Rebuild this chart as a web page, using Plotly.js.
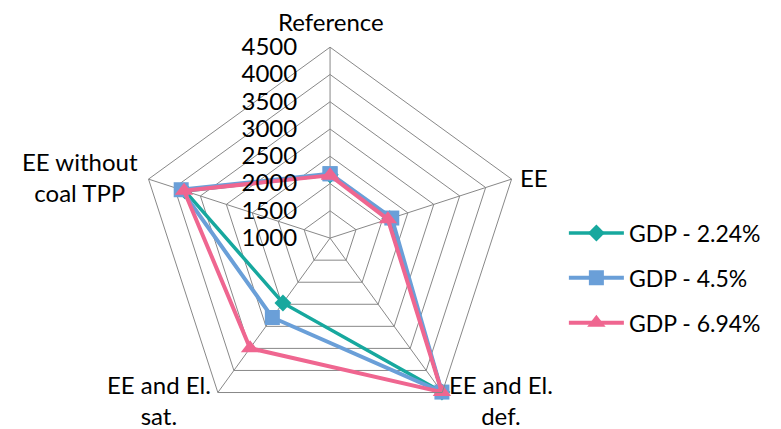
<!DOCTYPE html>
<html>
<head>
<meta charset="utf-8">
<script src="https://cdn.plot.ly/plotly-3.0.1.min.js"></script>
<style>html,body{margin:0;padding:0;background:#fff;}#chart{width:781px;height:429px;}</style>
</head>
<body>
<div id="chart"></div>
<script>
const categories = ["Reference", "EE", "EE and El.<br>def.", "EE and El.<br>sat.", "EE without<br>coal TPP"];
const seriesNames = ["GDP - 2.24%", "GDP - 4.5%", "GDP - 6.94%"];
const gdp224 = [2160, 2150, 4490, 2470, 3800];
const gdp45 = [2180, 2190, 4490, 2800, 3870];
const gdp694 = [2150, 2115, 4490, 3495, 3815];
const radialTicks = [1000, 1500, 2000, 2500, 3000, 3500, 4000, 4500];

const colors = ["#17A89E", "#6A9FD8", "#EF6690"];
const symbols = ["diamond", "square", "triangle-up"];
const sizes = [13, 15, 16];
const widths = [3.5, 4, 4];
const allSeries = [gdp224, gdp45, gdp694];

const traces = allSeries.map((vals, i) => ({
  type: "scatterpolar",
  mode: "lines+markers",
  name: seriesNames[i],
  legendgroup: "g" + i,
  r: vals.concat([vals[0]]),
  theta: categories.concat([categories[0]]),
  line: {color: colors[i], width: widths[i]},
  marker: {symbol: symbols[i], size: sizes[i], color: colors[i]},
  cliponaxis: false
}));

// category label placement (paper px), text comes from categories
const labelPos = [[331, 21], [534, 178], [501, 400], [159, 400], [80, 177]];
const annotations = categories.map((c, i) => ({
  xref: "paper", yref: "paper",
  x: labelPos[i][0] / 781, y: 1 - labelPos[i][1] / 429,
  xanchor: "center", yanchor: "middle",
  text: c, showarrow: false, align: "center",
  font: {size: 24, color: "#000"}
}));

const layout = {
  width: 781, height: 429,
  margin: {l: 0, r: 0, t: 0, b: 0},
  paper_bgcolor: "#fff",
  font: {family: "Lato, 'Open Sans', sans-serif", size: 23, color: "#000"},
  showlegend: true,
  legend: {x: 0.722, y: 0.352, xanchor: "left", yanchor: "middle", tracegroupgap: 12, itemwidth: 55, font: {size: 23}},
  annotations: annotations,
  polar: {
    domain: {x: [0.1782, 0.6670], y: [0, 0.89]},
    gridshape: "linear",
    bgcolor: "rgba(0,0,0,0)",
    angularaxis: {
      rotation: 90, direction: "clockwise",
      type: "category",
      showline: true, linecolor: "#888", linewidth: 1,
      gridcolor: "#888", gridwidth: 1,
      ticks: "", showticklabels: false
    },
    radialaxis: {
      range: [1000, 4500],
      tickvals: radialTicks,
      angle: 90,
      tickangle: 90,
      showline: false,
      gridcolor: "#888", gridwidth: 1,
      ticks: "outside", ticklen: 24, tickcolor: "rgba(0,0,0,0)",
      tickfont: {size: 24},
      side: "counterclockwise"
    }
  }
};

Plotly.newPlot("chart", traces, layout, {displayModeBar: false, staticPlot: true});
</script>
</body>
</html>
